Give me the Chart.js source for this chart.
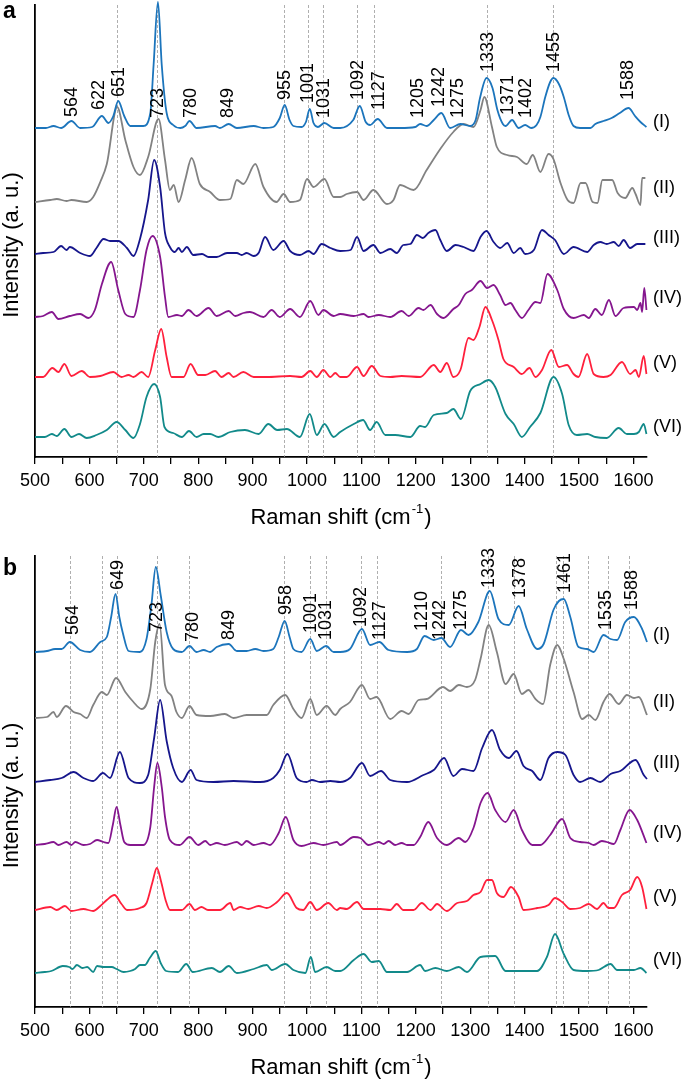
<!DOCTYPE html>
<html>
<head>
<meta charset="utf-8">
<script src="https://cdn.jsdelivr.net/npm/chart.js@4.4.1/dist/chart.umd.min.js"></script>
<style>
  body { margin: 0; background: #fff; }
  #wrap { position: relative; width: 685px; height: 1082px; }
  canvas { position: absolute; left: 0; }
  #chartA { top: 0; }
  #chartB { top: 540px; }
</style>
</head>
<body>
<div id="wrap">
  <canvas id="chartA" width="685" height="540"></canvas>
  <canvas id="chartB" width="685" height="542"></canvas>
</div>
<script>
const FONT = '"Liberation Sans", Arial, Helvetica, sans-serif';
Chart.defaults.font.family = FONT;
Chart.defaults.color = '#000';

// x axis ticks (labels only on the hundreds)
const xTicks = [500, 550, 600, 650, 700, 750, 800, 850, 900, 950, 1000, 1050, 1100,
  1150, 1200, 1250, 1300, 1350, 1400, 1450, 1500, 1550, 1600];
const traceColors = ['#1c75bc', '#828282', '#16168c', '#85168e', '#ff203c', '#128a8a'];
const romanLabels = ['(I)', '(II)', '(III)', '(IV)', '(V)', '(VI)'];

// ---- panel a : spectra as [Raman shift, height above own baseline] ----
const aI = [[500,0],[520,0],[534,2],[548,0],[567,7],[583,0],[605,1],[623,12],[635,5],[644,12],[653,27],[664,12],[675,2],[699,2],[712,15],[718,63],[726,126],[733,63],[742,15],[754,3],[767,0],[776,2],[784,7],[797,0],[831,2],[840,0],[856,4],[871,0],[902,2],[920,0],[938,1],[950,10],[959,23],[968,8],[975,2],[990,1],[998,6],[1005,19],[1012,5],[1020,1],[1032,5],[1049,0],[1061,0],[1085,8],[1097,22],[1108,6],[1116,3],[1130,9],[1147,0],[1171,0],[1199,1],[1208,4],[1220,2],[1233,8],[1247,15],[1263,0],[1282,4],[1300,2],[1310,8],[1318,30],[1330,50],[1341,40],[1350,18],[1360,4],[1365,2],[1377,8],[1389,0],[1401,3],[1412,0],[1422,3],[1429,11],[1438,31],[1447,46],[1453,50],[1463,44],[1472,31],[1481,13],[1490,2],[1502,0],[1521,0],[1530,4],[1545,7],[1560,10],[1575,15],[1591,20],[1603,12],[1613,6],[1624,1]];
const aII = [[500,0],[528,2],[540,3],[558,1],[567,2],[595,0],[607,5],[620,20],[632,38],[651,95],[666,62],[681,35],[693,27],[708,45],[727,83],[739,42],[748,12],[755,17],[764,0],[776,22],[788,44],[803,18],[822,10],[840,2],[859,3],[871,22],[883,18],[905,38],[920,15],[944,0],[957,8],[969,0],[987,2],[1000,23],[1012,15],[1032,23],[1049,5],[1061,5],[1073,8],[1092,10],[1104,2],[1122,12],[1147,-2],[1159,2],[1171,17],[1196,12],[1220,32],[1245,53],[1269,70],[1288,78],[1306,75],[1319,92],[1326,105],[1340,75],[1349,55],[1368,47],[1386,45],[1404,38],[1415,47],[1429,30],[1444,48],[1453,43],[1466,19],[1479,2],[1490,-1],[1503,19],[1512,19],[1525,0],[1534,-1],[1543,22],[1561,22],[1571,9],[1585,4],[1598,14],[1604,8],[1613,-3],[1616,24],[1622,24]];
const aIII = [[500,0],[515,1],[534,2],[548,8],[558,4],[564,7],[583,1],[601,-2],[613,6],[626,15],[638,13],[653,13],[669,6],[681,-2],[693,15],[708,54],[719,94],[730,67],[739,21],[748,7],[757,2],[764,6],[770,2],[779,7],[791,-1],[807,0],[819,-3],[834,-3],[853,1],[871,1],[880,-1],[889,1],[902,-2],[911,1],[923,17],[938,4],[957,13],[969,3],[987,-1],[1003,3],[1012,0],[1027,10],[1043,6],[1061,3],[1080,4],[1092,17],[1104,3],[1122,9],[1135,1],[1153,5],[1165,1],[1177,9],[1190,10],[1202,19],[1213,16],[1223,21],[1236,24],[1245,14],[1257,3],[1273,9],[1288,7],[1306,3],[1319,17],[1330,23],[1343,12],[1355,6],[1368,11],[1380,1],[1392,6],[1401,0],[1417,4],[1432,24],[1444,19],[1456,14],[1472,0],[1490,7],[1515,2],[1527,9],[1539,12],[1551,10],[1564,12],[1573,8],[1582,14],[1594,6],[1607,10],[1622,10]];
const aIV = [[500,0],[515,1],[531,5],[543,-2],[564,1],[583,3],[598,-1],[610,7],[623,33],[640,55],[653,27],[666,3],[681,0],[693,27],[705,67],[716,81],[730,60],[739,20],[745,0],[761,2],[770,1],[782,7],[797,1],[819,9],[834,1],[856,6],[868,1],[883,4],[895,5],[920,0],[935,7],[950,0],[969,8],[987,0],[1006,16],[1021,2],[1030,7],[1049,1],[1061,3],[1086,1],[1104,3],[1113,0],[1132,2],[1153,0],[1174,6],[1187,1],[1205,9],[1214,7],[1227,12],[1239,3],[1251,-1],[1269,8],[1279,12],[1291,23],[1303,27],[1319,36],[1331,29],[1343,32],[1355,22],[1365,12],[1374,14],[1383,7],[1395,-1],[1407,7],[1420,15],[1429,14],[1442,43],[1460,27],[1472,8],[1490,-1],[1509,2],[1518,-1],[1530,8],[1542,2],[1555,17],[1567,1],[1582,9],[1601,10],[1607,7],[1613,14],[1616,5],[1620,29],[1624,7]];
const aV = [[500,0],[515,0],[532,9],[543,5],[554,13],[567,1],[586,6],[601,0],[620,1],[644,5],[659,0],[672,2],[681,0],[696,5],[708,0],[721,27],[732,48],[742,20],[751,0],[773,0],[786,13],[800,2],[813,2],[831,6],[843,0],[856,4],[865,0],[883,5],[902,0],[926,0],[969,1],[990,0],[1006,6],[1018,0],[1030,7],[1043,0],[1052,4],[1061,0],[1073,0],[1092,10],[1104,1],[1119,11],[1135,1],[1153,0],[1174,1],[1208,0],[1233,12],[1245,5],[1257,14],[1269,0],[1282,7],[1297,39],[1306,37],[1317,50],[1328,70],[1340,57],[1352,37],[1361,18],[1380,10],[1395,3],[1409,9],[1420,0],[1432,7],[1449,27],[1463,10],[1478,12],[1490,3],[1499,0],[1515,23],[1527,3],[1545,0],[1558,2],[1579,15],[1594,3],[1604,7],[1610,0],[1619,21],[1624,3]];
const aVI = [[500,0],[518,0],[531,3],[540,1],[554,8],[567,0],[581,3],[595,-1],[613,2],[632,7],[650,15],[666,7],[681,-1],[693,13],[705,40],[719,53],[730,40],[738,10],[754,4],[770,0],[783,6],[797,0],[810,3],[822,3],[837,0],[859,5],[886,7],[911,3],[929,13],[945,7],[963,8],[987,0],[1005,23],[1018,2],[1032,13],[1049,0],[1061,5],[1086,13],[1103,17],[1116,7],[1128,15],[1144,2],[1162,2],[1190,0],[1208,11],[1217,10],[1233,22],[1257,24],[1269,28],[1283,18],[1300,46],[1319,53],[1334,57],[1346,50],[1365,23],[1380,13],[1395,0],[1410,10],[1429,24],[1453,60],[1469,43],[1481,12],[1496,2],[1515,3],[1530,0],[1551,-1],[1573,9],[1588,3],[1601,3],[1610,5],[1619,13],[1624,3]];
const aBase = [329, 255, 203, 140, 80, 20];
const aRomanY = [335, 269, 219, 159, 94, 30];
const aLines = [651, 724, 958, 1002, 1030, 1092, 1124, 1330, 1453];
const aPeakText = ['564','622','651','723','780','849','955','1001','1031','1092','1127','1205','1242','1275','1333','1371','1402','1455','1588'];
const aPeakX = [566, 616, 653, 724, 785, 853, 958, 1000, 1030, 1092, 1131, 1203, 1241, 1276, 1331, 1368, 1401, 1453, 1589];
const aPeakY = [340, 347, 360, 339, 339, 339, 357, 354, 339, 357, 347, 339, 350, 339, 385, 342, 339, 385, 357];

// ---- panel b ----
const bI = [[500,0],[522,1],[537,3],[549,3],[564,10],[583,2],[601,0],[620,10],[632,15],[640,35],[648,58],[655,35],[661,20],[672,1],[693,0],[705,13],[714,47],[722,85],[731,57],[742,20],[754,3],[770,0],[784,6],[797,0],[810,2],[822,0],[834,5],[856,8],[871,1],[889,1],[905,3],[920,1],[938,3],[948,15],[959,31],[968,15],[975,3],[990,0],[1006,13],[1018,1],[1035,6],[1049,0],[1061,0],[1079,3],[1101,23],[1116,7],[1133,10],[1150,2],[1184,0],[1202,3],[1216,16],[1233,12],[1247,14],[1263,5],[1283,22],[1297,17],[1315,30],[1336,61],[1352,33],[1371,27],[1389,46],[1404,23],[1423,3],[1435,8],[1453,42],[1463,51],[1472,53],[1484,35],[1499,5],[1515,3],[1527,0],[1545,17],[1558,13],[1570,12],[1585,30],[1601,35],[1616,23],[1625,10]];
const bII = [[500,0],[522,1],[534,6],[540,1],[557,12],[571,6],[583,4],[595,0],[607,13],[623,26],[632,23],[649,40],[666,26],[681,16],[696,9],[712,29],[721,76],[729,94],[739,33],[751,22],[760,6],[770,0],[784,12],[797,3],[822,2],[849,4],[865,0],[889,3],[908,3],[926,3],[938,13],[960,23],[975,9],[990,0],[1006,19],[1018,3],[1036,12],[1052,3],[1061,9],[1079,16],[1101,33],[1116,19],[1128,21],[1153,-1],[1174,7],[1187,4],[1205,18],[1220,19],[1250,31],[1263,27],[1279,33],[1294,31],[1309,38],[1319,59],[1334,93],[1349,66],[1365,34],[1380,44],[1395,24],[1407,28],[1420,19],[1434,14],[1447,53],[1460,73],[1472,59],[1490,26],[1506,-1],[1518,3],[1530,-2],[1545,16],[1556,24],[1573,14],[1588,23],[1601,20],[1610,21],[1625,3]];
const bIII = [[500,0],[528,2],[549,4],[571,10],[589,4],[607,1],[625,9],[638,4],[656,30],[672,4],[693,-1],[708,7],[719,44],[730,82],[742,41],[754,14],[770,0],[786,12],[797,2],[828,0],[865,1],[914,0],[938,4],[950,12],[964,28],[981,4],[999,0],[1009,2],[1024,0],[1043,1],[1061,0],[1079,4],[1101,19],[1116,6],[1136,11],[1153,2],[1184,0],[1214,7],[1233,12],[1252,24],[1269,6],[1285,13],[1306,11],[1322,34],[1340,52],[1355,32],[1371,24],[1385,31],[1398,16],[1414,11],[1429,2],[1444,24],[1460,30],[1475,27],[1490,7],[1502,0],[1521,4],[1539,0],[1558,8],[1576,11],[1604,22],[1619,7],[1625,3]];
const bIV = [[500,0],[518,1],[534,3],[543,0],[558,3],[567,0],[574,3],[589,0],[601,1],[614,5],[626,3],[635,2],[643,20],[650,38],[657,20],[664,3],[675,0],[699,0],[712,18],[719,58],[725,82],[733,58],[739,28],[748,5],[766,0],[784,8],[800,0],[813,4],[822,0],[834,2],[849,0],[871,3],[880,0],[889,4],[902,0],[920,2],[932,0],[948,12],[961,28],[975,5],[990,-1],[1012,2],[1030,0],[1055,3],[1061,0],[1086,8],[1098,7],[1113,0],[1132,3],[1141,1],[1150,4],[1162,0],[1174,2],[1184,0],[1196,0],[1208,8],[1223,23],[1239,7],[1257,0],[1279,7],[1291,3],[1306,17],[1319,42],[1332,52],[1346,35],[1365,23],[1380,35],[1395,15],[1414,0],[1429,0],[1447,10],[1469,26],[1484,7],[1502,3],[1518,2],[1527,0],[1542,4],[1551,3],[1564,1],[1576,15],[1593,35],[1607,25],[1624,2]];
const bV = [[500,0],[528,3],[540,0],[555,4],[567,-1],[589,1],[607,-1],[620,4],[632,10],[646,15],[659,6],[669,0],[693,2],[705,7],[716,28],[724,42],[732,28],[740,10],[748,0],[770,0],[784,6],[794,0],[806,3],[818,0],[840,0],[859,7],[865,0],[877,3],[892,1],[911,4],[926,2],[945,8],[963,17],[981,2],[993,0],[1006,8],[1018,0],[1039,7],[1055,0],[1061,2],[1073,1],[1092,8],[1104,1],[1135,1],[1153,0],[1165,6],[1177,0],[1196,0],[1211,7],[1227,0],[1239,6],[1257,-1],[1276,7],[1294,9],[1306,15],[1319,18],[1331,30],[1340,30],[1349,17],[1361,13],[1375,23],[1389,13],[1398,0],[1423,2],[1444,5],[1456,12],[1469,8],[1484,1],[1502,2],[1518,6],[1533,1],[1545,7],[1554,2],[1564,2],[1579,15],[1594,20],[1607,33],[1616,23],[1624,1]];
const bVI = [[500,0],[518,1],[530,2],[551,7],[563,6],[569,4],[577,8],[587,5],[596,6],[607,1],[614,7],[626,6],[641,6],[650,4],[663,1],[675,2],[684,4],[693,8],[702,8],[711,15],[722,22],[731,10],[741,2],[763,1],[778,9],[790,1],[825,5],[840,1],[856,7],[871,0],[902,4],[926,8],[935,3],[960,9],[975,3],[997,0],[1007,16],[1015,1],[1036,6],[1052,2],[1061,2],[1086,13],[1104,19],[1119,11],[1132,12],[1147,1],[1184,1],[1208,8],[1217,2],[1236,5],[1257,2],[1279,6],[1294,1],[1319,16],[1346,17],[1365,2],[1386,2],[1423,2],[1441,16],[1456,39],[1472,19],[1490,3],[1515,2],[1536,3],[1558,9],[1570,3],[1601,3],[1613,5],[1624,0]];
const bBase = [355, 289, 225, 162, 97, 34];
const bRomanY = [372, 305, 244, 174, 110, 47];
const bLines = [564, 623, 651, 724, 784, 958, 1006, 1035, 1099, 1129, 1247, 1333, 1381, 1458, 1471, 1517, 1554, 1591];
const bPeakText = ['564','649','723','780','849','958','1001','1031','1092','1127','1210','1242','1275','1333','1378','1461','1535','1588'];
const bPeakX = [568, 651, 723, 789, 855, 960, 1006, 1033, 1098, 1133, 1210, 1243, 1282, 1333, 1389, 1473, 1547, 1595];
const bPeakY = [372, 417, 375, 365, 367, 392, 374, 367, 380, 367, 376, 367, 377, 419, 409, 414, 377, 397];

// draws dashed guide lines, peak labels, trace names, axis titles and panel letter
function decor(o) {
  return {
    id: 'decor',
    beforeDatasetsDraw(chart) {
      const { ctx, chartArea: ca, scales: { x } } = chart;
      ctx.save();
      ctx.strokeStyle = '#9a9a9a';
      ctx.lineWidth = 0.8;
      ctx.setLineDash([3, 2]);
      o.lines.forEach(v => {
        const px = Math.round(x.getPixelForValue(v)) + 0.5;
        ctx.beginPath();
        ctx.moveTo(px, ca.top);
        ctx.lineTo(px, ca.bottom);
        ctx.stroke();
      });
      ctx.restore();
    },
    afterDatasetsDraw(chart) {
      const { ctx, chartArea: ca, scales: { x, y } } = chart;
      ctx.save();
      ctx.fillStyle = '#000';
      ctx.font = '18px ' + FONT;
      ctx.textBaseline = 'middle';
      ctx.textAlign = 'left';
      o.peakText.forEach((t, i) => {
        ctx.save();
        ctx.translate(x.getPixelForValue(o.peakX[i]), y.getPixelForValue(o.peakY[i]));
        ctx.rotate(-Math.PI / 2);
        ctx.fillText(t, 0, 1);
        ctx.restore();
      });
      romanLabels.forEach((t, i) => {
        ctx.fillText(t, ca.right + 6, y.getPixelForValue(o.romanY[i]));
      });

      // y title
      ctx.save();
      ctx.font = '22px ' + FONT;
      ctx.textAlign = 'center';
      ctx.translate(12, (ca.top + ca.bottom) / 2 + 14);
      ctx.rotate(-Math.PI / 2);
      ctx.fillText('Intensity (a. u.)', 0, 0);
      ctx.restore();

      // x title with superscript
      const main = 'Raman shift (cm', sup = '-1', close = ')';
      ctx.font = '22px ' + FONT;
      const wMain = ctx.measureText(main).width;
      const wClose = ctx.measureText(close).width;
      ctx.font = '13px ' + FONT;
      const wSup = ctx.measureText(sup).width;
      const cy = ca.bottom + 61;
      let cx = (ca.left + ca.right) / 2 - (wMain + wSup + wClose + 2) / 2;
      ctx.font = '22px ' + FONT;
      ctx.fillText(main, cx, cy);
      cx += wMain + 1;
      ctx.font = '13px ' + FONT;
      ctx.fillText(sup, cx, cy - 9);
      cx += wSup + 1;
      ctx.font = '22px ' + FONT;
      ctx.fillText(close, cx, cy);

      // panel letter
      ctx.font = 'bold 23px ' + FONT;
      ctx.textBaseline = 'alphabetic';
      ctx.fillText(o.letter, 3, o.letterY);
      ctx.restore();
    }
  };
}

function makePanel(id, o) {
  const datasets = o.traces.map((t, i) => ({
    data: t.map(p => ({ x: p[0], y: o.base[i] + p[1] })),
    borderColor: traceColors[i],
    borderWidth: 1.8,
    pointRadius: 0,
    cubicInterpolationMode: 'monotone',
    fill: false,
    clip: false
  }));

  return new Chart(document.getElementById(id).getContext('2d'), {
    type: 'line',
    data: { datasets },
    options: {
      responsive: false,
      animation: false,
      layout: { padding: { top: o.padTop, right: 38, bottom: o.padBottom, left: 0 } },
      plugins: { legend: { display: false }, tooltip: { enabled: false } },
      scales: {
        x: {
          type: 'linear',
          min: 500,
          max: 1625,
          afterBuildTicks: s => { s.ticks = xTicks.map(v => ({ value: v })); },
          afterFit: s => { s.height = 40; },
          ticks: {
            autoSkip: false,
            maxRotation: 0,
            padding: 6,
            color: '#000',
            font: { size: 18 },
            callback: v => (v % 100 === 0 ? String(v) : '')
          },
          grid: { drawOnChartArea: false, tickLength: 7, color: '#000', lineWidth: 1.3 },
          border: { color: '#000', width: 1.8 }
        },
        y: {
          min: 0,
          max: o.yMax,
          afterFit: s => { s.width = 35; },
          ticks: { display: false },
          grid: { display: false },
          border: { color: '#000', width: 1.8 }
        }
      }
    },
    plugins: [decor(o)]
  });
}

makePanel('chartA', {
  traces: [aI, aII, aIII, aIV, aV, aVI], base: aBase, romanY: aRomanY,
  lines: aLines, peakText: aPeakText, peakX: aPeakX, peakY: aPeakY,
  letter: 'a', letterY: 18, yMax: 452, padTop: 5, padBottom: 43
});

makePanel('chartB', {
  traces: [bI, bII, bIII, bIV, bV, bVI], base: bBase, romanY: bRomanY,
  lines: bLines, peakText: bPeakText, peakX: bPeakX, peakY: bPeakY,
  letter: 'b', letterY: 35, yMax: 451, padTop: 16, padBottom: 35
});
</script>
</body>
</html>
